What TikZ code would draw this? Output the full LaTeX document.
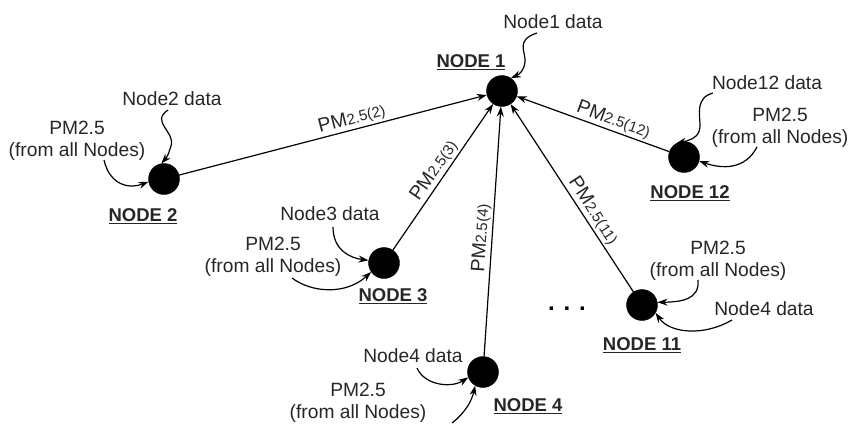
\documentclass[tikz,border=0pt]{standalone}
\usepackage{fontspec}
\setmainfont{Liberation Sans}
\usetikzlibrary{arrows.meta}
\tikzset{
  dot/.style={circle,fill=black,draw=black,minimum size=31pt,inner sep=0pt},
  txt/.style={font=\fontsize{19.2}{21.5}\selectfont,text=black!85,inner sep=1pt,align=center},
  nlabel/.style={font=\fontsize{18.5}{19}\selectfont\bfseries,text=black!85,inner sep=1pt},
  edge/.style={line width=1.2pt,-{Stealth[length=10pt,width=7pt]}},
  feed/.style={line width=1.2pt,-{Stealth[length=10pt,width=7pt]}},
  elab/.style={font=\fontsize{19.5}{20}\selectfont,text=black!85,sloped,above,inner sep=2pt}
}
\newcommand{\pmsub}[1]{PM{\fontsize{15}{15}\selectfont #1}}
\begin{document}
\begin{tikzpicture}[x=1pt,y=-1pt]
\useasboundingbox (0,0) rectangle (848,423);
% nodes
\node[dot] (n1) at (502,91) {};
\node[dot] (n2) at (164,179) {};
\node[dot] (n3) at (384,263) {};
\node[dot] (n4) at (483,372) {};
\node[dot] (n11) at (642,305) {};
\node[dot] (n12) at (684,157) {};
% node labels
\node[nlabel] (l1) at (471,62) {\underline{NODE 1}};
\node[nlabel] (l2) at (143,216) {\underline{NODE 2}};
\node[nlabel] (l3) at (393,296) {\underline{NODE 3}};
\node[nlabel] (l4) at (528,406) {\underline{NODE 4}};
\node[nlabel] (l11) at (642,345) {\underline{NODE 11}};
\node[nlabel] (l12) at (690,193) {\underline{NODE 12}};
% data texts
\node[txt] (d1) at (553,22) {Node1 data};
\node[txt] (d2) at (172,99) {Node2 data};
\node[txt] (p2) at (77,141) {PM2.5\\(from all Nodes)};
\node[txt] (d12) at (767,83) {Node12 data};
\node[txt] (p12) at (780,128) {PM2.5\\(from all Nodes)};
\node[txt] (d3) at (330,214) {Node3 data};
\node[txt] (p3) at (273,257) {PM2.5\\(from all Nodes)};
\node[txt] (d4) at (413,356) {Node4 data};
\node[txt] (p4) at (358,403) {PM2.5\\(from all Nodes)};
\node[txt] (p11) at (718,261) {PM2.5\\(from all Nodes)};
\node[txt] (d11) at (764,309) {Node4 data};
\node[font=\fontsize{24}{24}\selectfont\bfseries] (dots) at (567,309) {. . .};
% feed curves
\coordinate (c1) at (537,33);
\draw[feed] (c1) .. controls (515,40) and (526,52) .. (525,62) .. controls (524,70) and (520,74) .. (n1.55);
\coordinate (c2) at (168,110);
\draw[feed] (c2) .. controls (150,122) and (176,132) .. (171,146) .. controls (169,152) and (168,156) .. (n2.100);
\coordinate (cp2) at (104,160);
\draw[feed] (cp2) .. controls (110,186) and (130,189) .. (n2.190);
\coordinate (c12) at (713,93);
\draw[feed] (c12) .. controls (695,98) and (700,115) .. (700,125) .. controls (700,134) and (696,139) .. (n12.120);
\coordinate (cp12) at (757,147);
\draw[feed] (cp12) .. controls (745,170) and (722,169) .. (n12.-15);
\coordinate (c3) at (333,227);
\draw[feed] (c3) .. controls (333,250) and (350,258) .. (n3.170);
\coordinate (cp3) at (292,278);
\draw[feed] (cp3) .. controls (312,293) and (346,295) .. (n3.215);
\coordinate (c4) at (417,368);
\draw[feed] (c4) .. controls (425,386) and (452,388) .. (n4.200);
\coordinate (cp4) at (452,423);
\draw[feed] (cp4) .. controls (466,412) and (472,400) .. (n4.240);
\coordinate (cp11) at (698,280);
\draw[feed] (cp11) .. controls (700,300) and (680,302) .. (n11.10);
\coordinate (c11) at (732,320);
\draw[feed] (c11) .. controls (705,336) and (670,334) .. (n11.-30);
% edges
\draw[edge] (n2) -- (n1) node[elab,pos=0.57] {\pmsub{2.5(2)}};
\draw[edge] (n3) -- (n1) node[elab,pos=0.5] {\pmsub{2.5(3)}};
\draw[edge] (n4) -- (n1) node[elab,pos=0.47] {\pmsub{2.5(4)}};
\draw[edge] (n11) -- (n1) node[elab,pos=0.4] {\pmsub{2.5(11)}};
\draw[edge] (n12) -- (n1) node[elab,pos=0.39] {\pmsub{2.5(12)}};
\end{tikzpicture}
\end{document}
